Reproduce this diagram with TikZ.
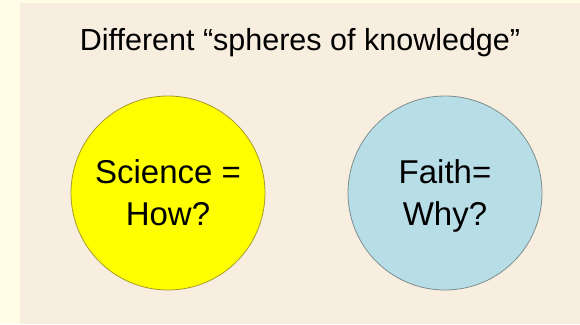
\documentclass[tikz,border=0pt]{standalone}
\usepackage{fontspec}
\setmainfont{Liberation Sans}
\usepackage{xcolor}
\usepackage{tikz}
\usetikzlibrary{positioning}

\definecolor{margin}{HTML}{FFFDE6}
\definecolor{slide}{HTML}{F7EEE0}
\definecolor{sciencefill}{HTML}{FFFF00}
\definecolor{scienceline}{HTML}{A89B2C}
\definecolor{faithfill}{HTML}{B7DDE6}
\definecolor{faithline}{HTML}{7E8E8E}

\tikzset{
	sphere/.style={circle, minimum size=194pt, inner sep=0pt, line width=0.8pt,
		align=center, text depth=0pt, font=\fontsize{33}{42}\selectfont},
}

\begin{document}
\begin{tikzpicture}[x=1pt, y=-1pt]
	\useasboundingbox (0,0) rectangle (580,324);
	\fill[margin] (0,0) rectangle (580,324);
	\fill[slide] (20,3) rectangle (580,324);
	\node[anchor=base, font=\fontsize{30.5}{34}\selectfont] (title) at (300,50) {Different “spheres of knowledge”};
	\node[sphere, fill=sciencefill, draw=scienceline] (science) at (168,193) {Science =\\How?};
	\node[sphere, fill=faithfill, draw=faithline] (faith) at (445,193) {Faith=\\Why?};
\end{tikzpicture}
\end{document}
